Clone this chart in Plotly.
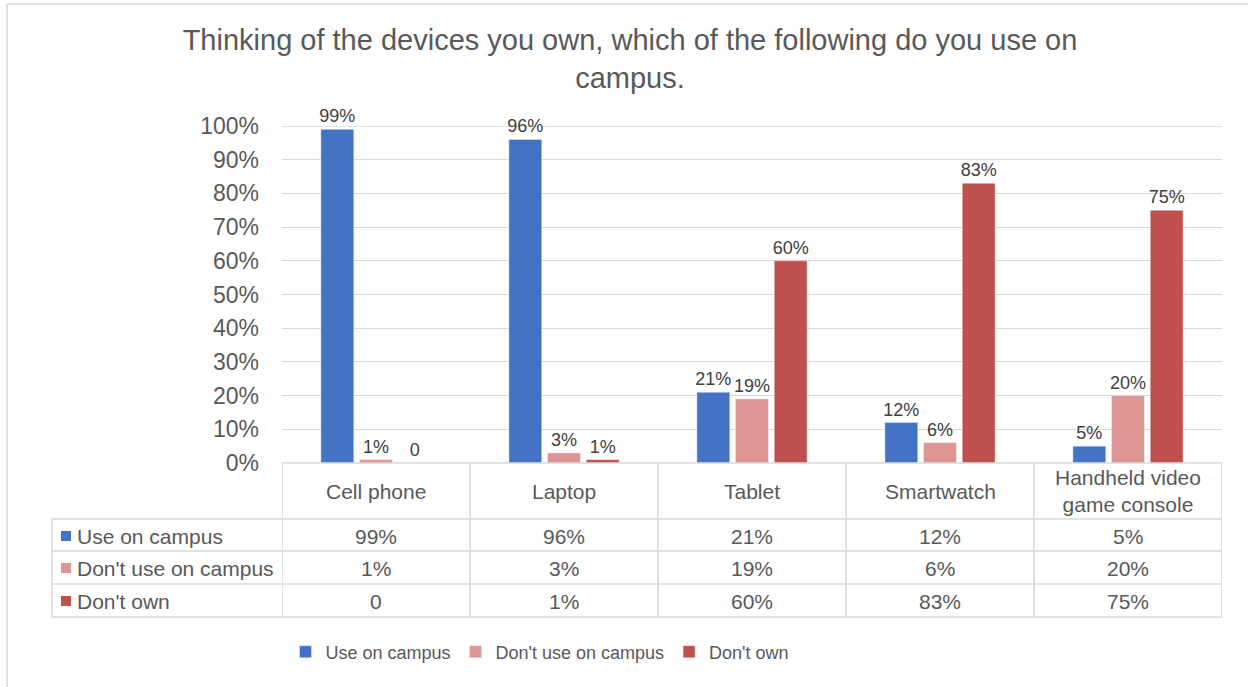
import plotly.graph_objects as go

# Survey data: share of respondents for each device
devices = ["Cell phone", "Laptop", "Tablet", "Smartwatch", "Handheld video game console"]
device_labels = ["Cell phone", "Laptop", "Tablet", "Smartwatch", "Handheld video<br>game console"]
use_on_campus = [99, 96, 21, 12, 5]
dont_use_on_campus = [1, 3, 19, 6, 20]
dont_own = [0, 1, 60, 83, 75]

series_names = ["Use on campus", "Don't use on campus", "Don't own"]
series_values = [use_on_campus, dont_use_on_campus, dont_own]
series_colors = ["#4472C4", "#DE9694", "#C0504D"]

FONT = "Arial, 'Liberation Sans', sans-serif"
TEXT_COLOR = "#595959"
LINE_COLOR = "#D9D9D9"

# Page / plot-area geometry (pixels)
W, H = 1248, 687
PL, PR, PT, PB = 282, 1222, 126, 463


def px(x):
    return (x - PL) / (PR - PL)


def py(y):
    return (PB - y) / (PB - PT)


def fmt(v):
    return f"{v}%" if v else "0"


fig = go.Figure()
for name, vals, col in zip(series_names, series_values, series_colors):
    fig.add_trace(go.Bar(
        name=name, x=devices, y=vals, marker_color=col,
        text=[fmt(v) for v in vals], textposition="outside",
        constraintext="none",
        textfont=dict(size=18, color="#404040", family=FONT),
        cliponaxis=False, hoverinfo="skip",
    ))

shapes = []
ann = []

# Data table: header row with device names, then one row per series
row_centers = [536, 568, 601]
for i, lab in enumerate(device_labels):
    ann.append(dict(x=devices[i], xref="x", y=py(491), yref="paper", text=lab,
                    showarrow=False, yanchor="middle",
                    font=dict(size=21, color=TEXT_COLOR, family=FONT)))
for r, (name, vals, col) in enumerate(zip(series_names, series_values, series_colors)):
    yc = row_centers[r]
    ann.append(dict(x=px(75), xref="paper", y=py(yc), yref="paper", text=name,
                    showarrow=False, xanchor="left", yanchor="middle",
                    font=dict(size=21, color=TEXT_COLOR, family=FONT)))
    shapes.append(dict(type="rect", xref="paper", yref="paper",
                       x0=px(61), x1=px(71), y0=py(yc + 5), y1=py(yc - 5),
                       fillcolor=col, line=dict(width=0)))
    for i, v in enumerate(vals):
        ann.append(dict(x=devices[i], xref="x", y=py(yc), yref="paper", text=fmt(v),
                        showarrow=False, yanchor="middle",
                        font=dict(size=21, color=TEXT_COLOR, family=FONT)))

line = dict(color=LINE_COLOR, width=1.5)
# top gridline at 100%
shapes.append(dict(type="line", xref="paper", yref="y", x0=0, x1=1, y0=100, y1=100,
                   line=dict(color=LINE_COLOR, width=1.25), layer="below"))
# table top (baseline) and row separators
shapes.append(dict(type="line", xref="paper", yref="paper", x0=0, x1=1, y0=0, y1=0, line=line))
for yy in [519, 551, 584, 617]:
    shapes.append(dict(type="line", xref="paper", yref="paper",
                       x0=px(52), x1=1, y0=py(yy), y1=py(yy), line=line))
# column separators
for i in range(len(devices) + 1):
    shapes.append(dict(type="line", xref="x", yref="paper", x0=i - 0.5, x1=i - 0.5,
                       y0=0, y1=py(617), line=line))
shapes.append(dict(type="line", xref="paper", yref="paper", x0=px(52), x1=px(52),
                   y0=py(519), y1=py(617), line=line))

# chart frame
shapes.append(dict(type="line", xref="paper", yref="paper", x0=px(7), x1=px(7),
                   y0=py(4), y1=py(700), line=dict(color=LINE_COLOR, width=1.5)))
shapes.append(dict(type="line", xref="paper", yref="paper", x0=px(7), x1=px(1260),
                   y0=py(4), y1=py(4), line=dict(color=LINE_COLOR, width=1.5)))

fig.update_layout(
    width=W, height=H,
    margin=dict(l=PL, r=W - PR, t=PT, b=H - PB, pad=0),
    paper_bgcolor="white", plot_bgcolor="white",
    font=dict(family=FONT, color=TEXT_COLOR),
    title=dict(text="Thinking of the devices you own, which of the following do you use on<br>campus.",
               x=630 / W, xref="container", xanchor="center",
               y=1 - 50 / H, yref="container", yanchor="top",
               font=dict(size=29, color=TEXT_COLOR, family=FONT)),
    barmode="group", bargap=0.383, bargroupgap=0.15,
    xaxis=dict(range=[-0.5, len(devices) - 0.5], showticklabels=False,
               showgrid=False, zeroline=False, showline=False),
    yaxis=dict(range=[0, 100], dtick=10, ticksuffix="%", showgrid=True,
               gridcolor=LINE_COLOR, gridwidth=1.25, zeroline=False,
               showline=False, ticklabelstandoff=22,
               tickfont=dict(size=23, color=TEXT_COLOR, family=FONT)),
    legend=dict(orientation="h", x=px(540), xanchor="center", y=py(652),
                yanchor="middle", font=dict(size=18, color=TEXT_COLOR, family=FONT),
                itemwidth=30, traceorder="normal"),
    shapes=shapes, annotations=ann,
)

fig.write_html("out.html")
